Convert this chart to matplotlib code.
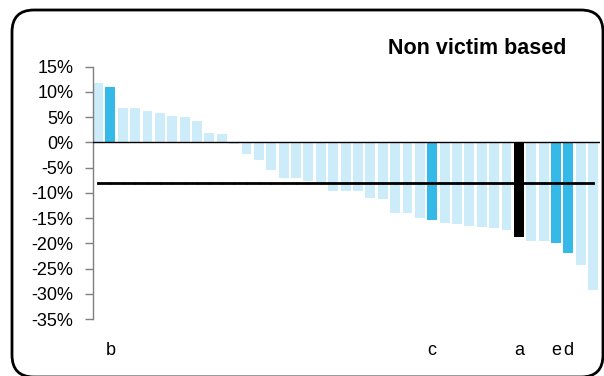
""" Non victim based bar chart """

import matplotlib
matplotlib.use("Agg")
import matplotlib.pyplot as plt
from matplotlib.patches import FancyBboxPatch

# Values in percent, sorted from highest to lowest
values = [11.7, 10.9, 6.9, 6.9, 6.2, 5.8, 5.2, 5.0, 4.2, 1.8, 1.6,
          -0.3, -2.3, -3.5, -5.4, -7.0, -7.0, -7.6, -7.8, -9.6, -9.6,
          -9.6, -11.0, -11.3, -13.9, -13.9, -14.9, -15.3, -15.9, -16.1,
          -16.5, -16.7, -16.9, -17.3, -18.7, -19.5, -19.5, -19.9, -22.0,
          -24.2, -29.2]
labels = [""] * len(values)
labels[1] = "b"
labels[27] = "c"
labels[34] = "a"
labels[37] = "e"
labels[38] = "d"
highlight = {1: "dark", 27: "dark", 37: "dark", 38: "dark", 34: "black"}
average = -8.1
yticks = list(range(15, -40, -5))
title = "Non victim based"

LIGHT = "#cdecf9"
DARK = "#35b9e9"

plt.rcParams["font.family"] = ["Liberation Sans", "DejaVu Sans"]

fig = plt.figure(figsize=(6.04, 3.76), dpi=100)
ax = fig.add_axes([93 / 604, 1 - 319 / 376, (600 - 93) / 604, (319 - 66.7) / 376])

x = list(range(len(values)))
colors = []
for i in x:
    kind = highlight.get(i)
    colors.append(DARK if kind == "dark" else "black" if kind == "black" else LIGHT)

ax.bar(x, values, width=0.8, color=colors, zorder=2)

# zero line and average line
ax.axhline(0, color="black", lw=1, zorder=3)
ax.plot(x, [average] * len(x), color="black", lw=2, marker="|", ms=2, mew=0.8, zorder=3)

# category labels under the plot
for i, lab in enumerate(labels):
    if lab:
        ax.text(i, -41.2, lab, ha="center", va="center", fontsize=13, clip_on=False)

ax.set_xlim(-0.4, 40.55)
ax.set_ylim(-35, 15)
ax.set_yticks(yticks)
ax.set_yticklabels([f"{v}%" for v in yticks])
ax.set_xticks([])
ax.tick_params(axis="y", direction="out", length=6, width=1, color="#7f7f7f", pad=8, labelsize=13)
for side in ["top", "right", "bottom"]:
    ax.spines[side].set_visible(False)
ax.spines["left"].set_color("#7f7f7f")
ax.spines["left"].set_linewidth(1)

fig.text(566 / 604, 1 - 54 / 376, title, ha="right", va="baseline", fontsize=15.5, fontweight="bold")

# rounded frame
frame = FancyBboxPatch((0.12, -0.01), 5.91, 3.67, boxstyle="round,pad=0,rounding_size=0.22",
                       transform=fig.dpi_scale_trans, fill=False, ec="black", lw=2, clip_on=False)
fig.patches.append(frame)

fig.savefig("out.png", dpi=100)
